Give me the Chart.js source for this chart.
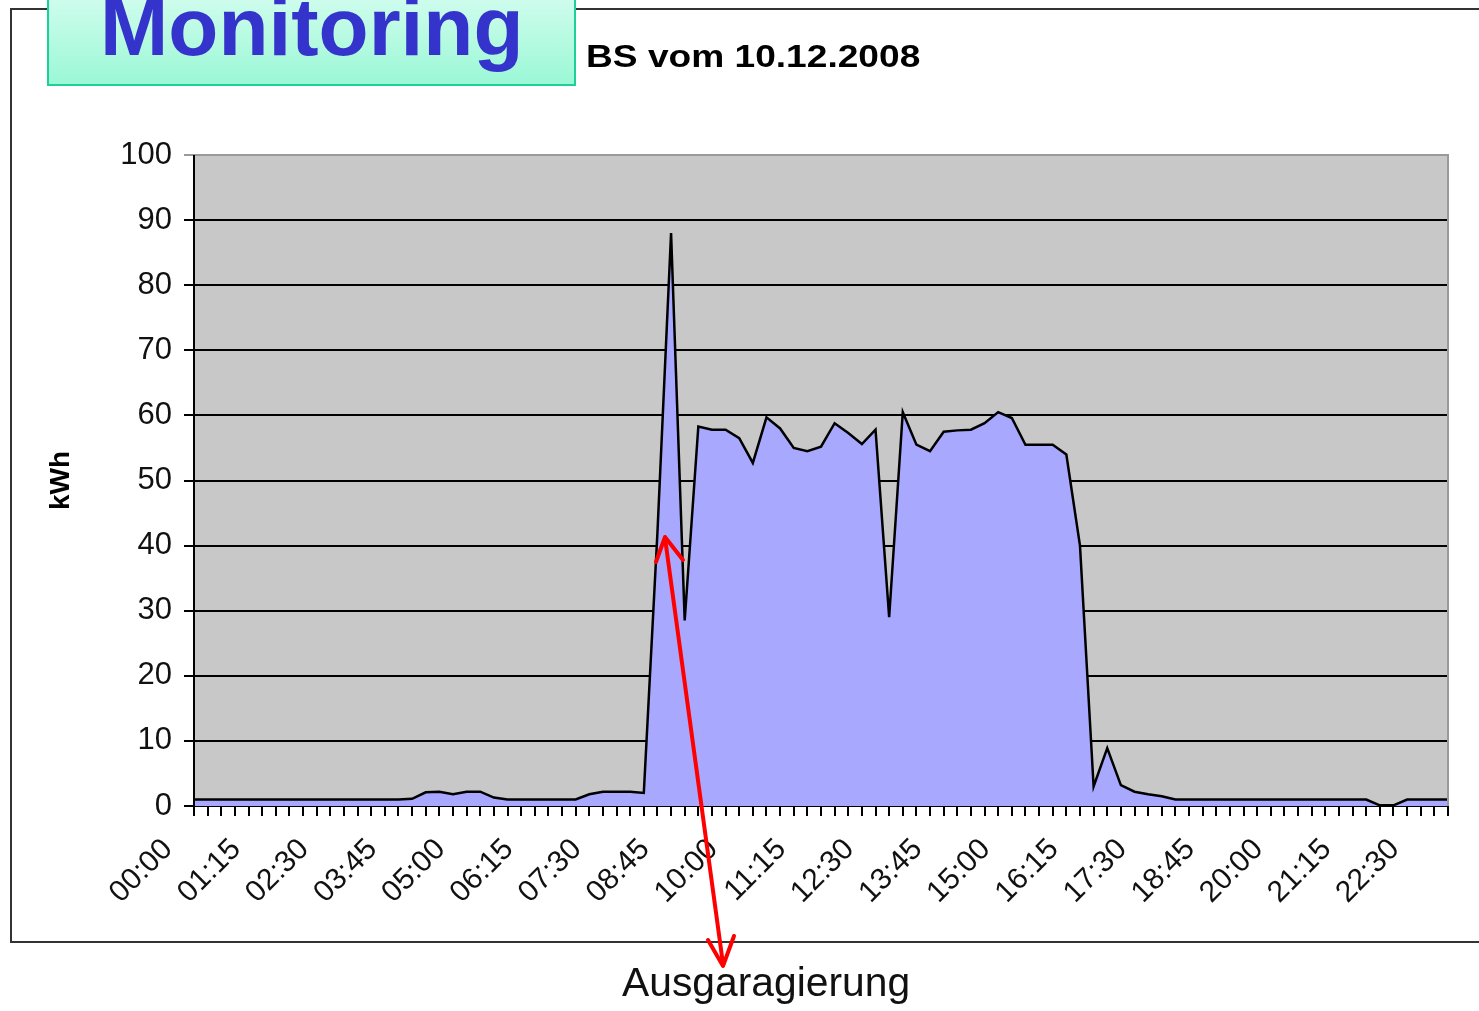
<!DOCTYPE html>
<html lang="de">
<head>
<meta charset="UTF-8">
<title>Monitoring - BS vom 10.12.2008</title>
<script src="https://cdn.jsdelivr.net/npm/chart.js@4.4.1/dist/chart.umd.min.js"></script>
<style>
    html, body { margin: 0; padding: 0; background: #fff; overflow: hidden; }
    body { width: 1479px; height: 1011px; position: relative; font-family: "Liberation Sans", Arial, sans-serif; }
    /* outer chart frame, runs off the right edge */
    .frame { position: absolute; left: 10px; top: 8px; width: 1520px; height: 935px; border: 2px solid #333; box-sizing: border-box; }
    .badge { position: absolute; left: 47px; top: -12px; width: 529px; height: 98px; box-sizing: border-box;
             border: 2px solid #1fcf9b; background: linear-gradient(#d4fdef, #9bf8d6); z-index: 2; }
    .badge-text { position: absolute; left: 100px; top: -14px; font-size: 82px; line-height: 82px; font-weight: bold;
                  color: #3434cc; z-index: 3; white-space: nowrap; }
    .title { position: absolute; left: 586px; top: 40px; font-size: 32px; line-height: 32px; font-weight: bold;
             color: #000; transform: scaleX(1.16); transform-origin: left top; white-space: nowrap; z-index: 3; }
    .note { position: absolute; left: 622px; top: 962px; font-size: 40px; line-height: 40px; color: #111;
            transform: scaleX(1.02); transform-origin: left top; white-space: nowrap; z-index: 3; }
    #wrap { position: absolute; left: 0; top: 0; width: 1479px; height: 1011px; z-index: 1; }
    svg.arrow { position: absolute; left: 0; top: 0; z-index: 4; }
</style>
</head>
<body>
    <div class="frame"></div>
    <div class="badge"></div>
    <div class="badge-text">Monitoring</div>
    <div class="title">BS vom 10.12.2008</div>
    <div id="wrap"><canvas id="chart" width="1479" height="1011"></canvas></div>
    <!-- red double arrow pointing to the morning peak -->
    <svg class="arrow" width="1479" height="1011">
        <g stroke="#ff0000" stroke-width="4" fill="none" stroke-linecap="round" stroke-linejoin="round">
            <line x1="665" y1="538" x2="723" y2="964"/>
            <polyline points="656,562 665,537 683,560"/>
            <polyline points="708,940 723,966 734,936"/>
        </g>
    </svg>
    <div class="note">Ausgaragierung</div>

<script>
// quarter-hour time slots
const timeLabels = [
    '00:00','00:15','00:30','00:45','01:00','01:15','01:30','01:45',
    '02:00','02:15','02:30','02:45','03:00','03:15','03:30','03:45',
    '04:00','04:15','04:30','04:45','05:00','05:15','05:30','05:45',
    '06:00','06:15','06:30','06:45','07:00','07:15','07:30','07:45',
    '08:00','08:15','08:30','08:45','09:00','09:15','09:30','09:45',
    '10:00','10:15','10:30','10:45','11:00','11:15','11:30','11:45',
    '12:00','12:15','12:30','12:45','13:00','13:15','13:30','13:45',
    '14:00','14:15','14:30','14:45','15:00','15:15','15:30','15:45',
    '16:00','16:15','16:30','16:45','17:00','17:15','17:30','17:45',
    '18:00','18:15','18:30','18:45','19:00','19:15','19:30','19:45',
    '20:00','20:15','20:30','20:45','21:00','21:15','21:30','21:45',
    '22:00','22:15','22:30','22:45','23:00'
];

// labels printed under the axis
const shownLabels = ['00:00','01:15','02:30','03:45','05:00','06:15','07:30','08:45','10:00',
    '11:15','12:30','13:45','15:00','16:15','17:30','18:45','20:00','21:15','22:30'];

// kWh per quarter hour
const kwhValues = [
    1, 1, 1, 1, 1, 1, 1, 1, 1, 1, 1, 1, 1, 1, 1, 1,
    1.1, 2.1, 2.2, 1.8, 2.2, 2.2, 1.3,
    1, 1, 1, 1, 1, 1,
    1.8, 2.2, 2.2, 2.2, 2,
    42, 88, 28.5, 58.3, 57.8, 57.8, 56.5, 52.7, 59.7, 58, 55, 54.5, 55.2, 58.8, 57.3, 55.6, 57.8,
    29, 60.5, 55.5, 54.5, 57.5, 57.7, 57.8, 58.8, 60.5, 59.6, 55.5, 55.5, 55.5, 54, 40,
    3, 8.9, 3.2, 2.2, 1.8, 1.5,
    1, 1, 1, 1, 1, 1, 1, 1, 1, 1, 1, 1, 1, 1, 1,
    0.1, 0.1, 1, 1, 1, 1
];

const yTicks = [0, 10, 20, 30, 40, 50, 60, 70, 80, 90, 100];

Chart.defaults.font.family = "'Liberation Sans', Arial, sans-serif";
Chart.defaults.color = '#000';

// grey plot background and plot-area edges
const plotArea = {
    id: 'plotArea',
    beforeDraw(chart) {
        const { ctx, chartArea: a } = chart;
        ctx.save();
        ctx.fillStyle = '#c8c8c8';
        ctx.fillRect(a.left, a.top, a.right - a.left, a.bottom - a.top);
        ctx.restore();
    },
    afterDatasetsDraw(chart) {
        const { ctx, chartArea: a } = chart;
        ctx.save();
        ctx.strokeStyle = '#9a9a9a';
        ctx.lineWidth = 2;
        ctx.beginPath();
        ctx.moveTo(a.left, a.top);
        ctx.lineTo(a.right, a.top);
        ctx.lineTo(a.right, a.bottom);
        ctx.stroke();
        ctx.strokeStyle = '#000';
        ctx.beginPath();
        ctx.moveTo(a.left, a.top);
        ctx.lineTo(a.left, a.bottom);
        ctx.stroke();
        ctx.restore();
    }
};

new Chart(document.getElementById('chart'), {
    type: 'line',
    data: {
        labels: timeLabels,
        datasets: [{
            label: 'kWh',
            data: kwhValues,
            borderColor: '#000',
            borderWidth: 2.5,
            backgroundColor: '#a8a8ff',
            fill: 'origin',
            pointRadius: 0,
            tension: 0
        }]
    },
    options: {
        responsive: false,
        animation: false,
        layout: { padding: { left: 40, right: 31, top: 155, bottom: 0 } },
        plugins: {
            legend: { display: false },
            tooltip: { enabled: false }
        },
        scales: {
            x: {
                z: 1,
                offset: false,
                afterFit(scale) {
                    scale.height = 205;
                    scale.paddingLeft = 0;
                    scale.paddingRight = 0;
                },
                grid: { drawOnChartArea: false, drawTicks: true, tickLength: 10, color: '#000', lineWidth: 2, offset: false },
                border: { color: '#000', width: 2 },
                ticks: {
                    autoSkip: false,
                    minRotation: 45,
                    maxRotation: 45,
                    labelOffset: -26,
                    padding: 16,
                    font: { size: 30 },
                    color: '#111',
                    callback(value, index) {
                        const l = timeLabels[index];
                        return shownLabels.includes(l) ? l : '';
                    }
                }
            },
            y: {
                min: 0,
                max: 100,
                afterFit(scale) { scale.width = 154; },
                afterBuildTicks(scale) { scale.ticks = yTicks.map(v => ({ value: v })); },
                grid: {
                    color: ctx => (ctx.tick && ctx.tick.value === 100 ? '#9a9a9a' : '#000'),
                    lineWidth: 2,
                    tickLength: 10
                },
                border: { display: false },
                ticks: { padding: 12, font: { size: 31 }, color: '#111' },
                title: { display: true, text: 'kWh', font: { size: 28, weight: 'bold' }, color: '#000', padding: { top: 4, bottom: 4 } }
            }
        }
    },
    plugins: [plotArea]
});
</script>
</body>
</html>
